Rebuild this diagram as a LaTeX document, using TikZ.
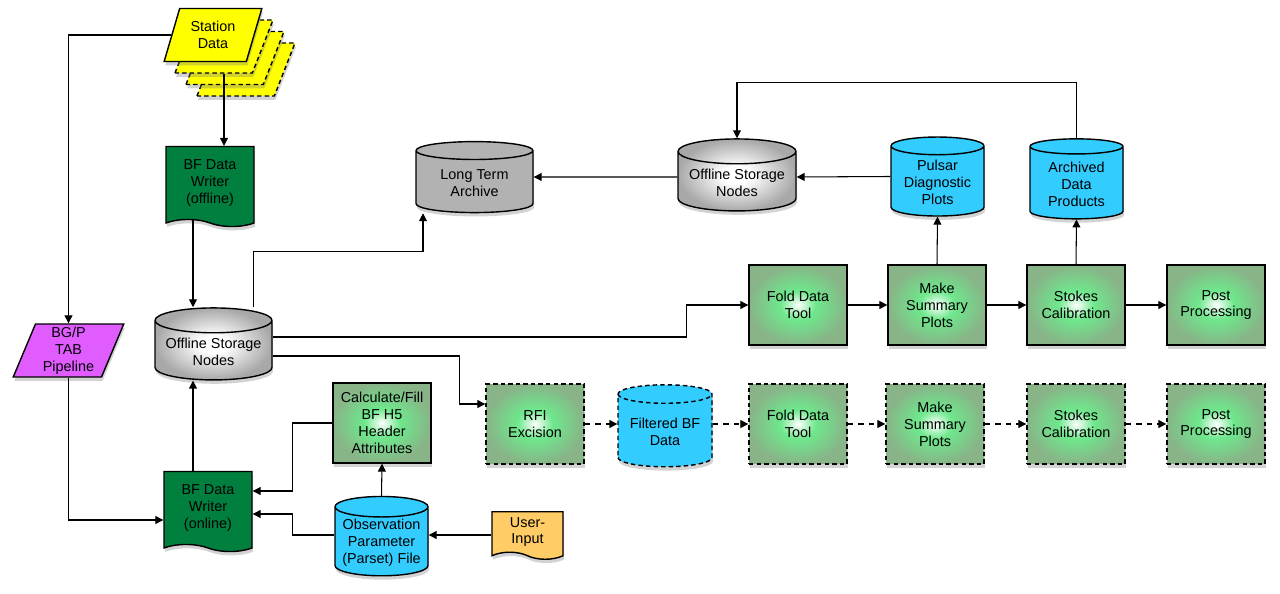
\documentclass[tikz,border=0pt]{standalone}
\usepackage{fontspec}
\setmainfont{Liberation Sans}
\usetikzlibrary{shapes.geometric,shapes.symbols,shadows,arrows.meta}

\definecolor{writergreen}{RGB}{0,127,62}
\definecolor{stationyellow}{RGB}{255,255,0}
\definecolor{bgpmagenta}{RGB}{224,92,255}
\definecolor{userorange}{RGB}{255,204,102}
\definecolor{plotblue}{RGB}{51,204,255}
\definecolor{archivegray}{RGB}{178,178,178}
\definecolor{glowmid}{RGB}{110,232,140}
\definecolor{glowedge}{RGB}{136,180,136}
\definecolor{grayedge}{RGB}{168,168,168}

\pgfdeclareradialshading{glowgreen}{\pgfpoint{0bp}{0bp}}{color(0bp)=(white); color(9bp)=(glowmid); color(25bp)=(glowedge); color(50bp)=(glowedge)}
\pgfdeclareradialshading{glowgray}{\pgfpoint{0bp}{0bp}}{color(0bp)=(white); color(6bp)=(white); color(25bp)=(grayedge); color(50bp)=(grayedge)}

\tikzset{
  every node/.style={font=\fontsize{8.2}{9.6}\selectfont, align=center, inner sep=1pt},
  castshadow/.style={drop shadow={shadow xshift=0.6pt, shadow yshift=-2.2pt, opacity=0.35}},
  procbox/.style={rectangle, draw, line width=0.8pt, minimum width=1.96cm, minimum height=1.6cm, shade, shading=glowgreen, castshadow},
  dashbox/.style={procbox, dash pattern=on 2.5pt off 1.8pt},
  store/.style={cylinder, shape border rotate=90, aspect=0.25, draw, line width=0.8pt, castshadow},
  writer/.style={tape, tape bend top=none, tape bend bottom=out and in, tape bend height=4pt, draw, line width=0.8pt, minimum width=1.76cm, minimum height=1.6cm, castshadow},
  slanted/.style={trapezium, trapezium left angle=70, trapezium right angle=110, trapezium stretches=true, draw, line width=0.8pt, castshadow},
  link/.style={-{Triangle[length=4.5pt,width=4.5pt]}, line width=0.6pt},
}

\begin{document}
\begin{tikzpicture}[x=0.02cm,y=-0.02cm]
\useasboundingbox (0,0) rectangle (1280,594);

\foreach \i/\dx/\dy in {4/33/34.5,3/22/23,2/11/11.5}
  \node[slanted, dash pattern=on 2.5pt off 1.8pt, fill=stationyellow, minimum width=1.96cm, minimum height=1.06cm] (station\i) at (213+\dx,35+\dy) {};
\node[slanted, fill=stationyellow, minimum width=1.96cm, minimum height=1.06cm] (station) at (213,35) {Station\\Data};

\node[writer, fill=writergreen] (bfoff) at (210,183) {BF Data\\Writer\\(offline)};
\node[store, shade, shading=glowgray, minimum width=2.34cm, minimum height=1.44cm] (store) at (213.5,352) {Offline Storage\\Nodes};
\node[slanted, fill=bgpmagenta, minimum width=2.22cm, minimum height=1.06cm] (bgp) at (68.5,350.5) {BG/P\\TAB\\Pipeline};
\node[writer, fill=writergreen] (bfon) at (208,508) {BF Data\\Writer\\(online)};
\node[procbox] (calc) at (382,423) {Calculate/Fill\\BF H5\\Header\\Attributes};
\node[store, fill=plotblue, minimum width=1.86cm, minimum height=1.56cm] (obs) at (381.5,543) {Observation\\Parameter\\(Parset) File};
\node[writer, fill=userorange, minimum width=1.42cm, minimum height=0.95cm] (user) at (527.5,532) {User-\\Input};

\node[store, fill=archivegray, minimum width=2.34cm, minimum height=1.42cm] (lta) at (474.5,183) {Long Term\\Archive};
\node[store, shade, shading=glowgray, minimum width=2.36cm, minimum height=1.44cm] (store2) at (737,183) {Offline Storage\\Nodes};
\node[store, fill=plotblue, minimum width=1.86cm, minimum height=1.58cm] (pulsar) at (937.5,182.5) {Pulsar\\Diagnostic\\Plots};
\node[store, fill=plotblue, minimum width=1.86cm, minimum height=1.6cm] (archived) at (1076.5,184) {Archived\\Data\\Products};

\node[procbox] (fold) at (798,305) {Fold Data\\Tool};
\node[procbox] (make) at (937,305) {Make\\Summary\\Plots};
\node[procbox] (stokes) at (1076,305) {Stokes\\Calibration};
\node[procbox] (post) at (1216,305) {Post\\Processing};

\node[dashbox] (rfi) at (535,424) {RFI\\Excision};
\node[store, dash pattern=on 2.5pt off 1.8pt, fill=plotblue, minimum width=1.88cm, minimum height=1.64cm] (filt) at (665,432) {Filtered BF\\Data};
\node[dashbox] (fold2) at (798,424) {Fold Data\\Tool};
\node[dashbox] (make2) at (935,424) {Make\\Summary\\Plots};
\node[dashbox] (stokes2) at (1076,424) {Stokes\\Calibration};
\node[dashbox] (post2) at (1216,424) {Post\\Processing};

\coordinate (colx) at (193,0);

\draw[link] (station.west) -| (bgp.north);
\draw[link] (station2.south) -- (station2.south |- bfoff.north);
\draw[link] (colx |- bfoff.south) -- (colx |- store.north);
\draw[link] ([xshift=0.8cm]store.north) -- ++(0,-56) -| ([xshift=-1.03cm]lta.south);
\draw[link] ([yshift=0.3cm]store.east) -| ([xshift=-1.24cm]fold.west) -- (fold.west);
\draw[link] ([yshift=-0.08cm]store.east) -| ([xshift=-0.52cm,yshift=0.4cm]rfi.west) -- ([yshift=0.4cm]rfi.west);
\draw[link] (bgp.south) |- ([yshift=-0.24cm]bfon.west);
\draw[link] (colx |- bfon.north) -- (colx |- store.south);
\draw[link] (calc.west) -- ++(-40,0) |- ([yshift=0.34cm]bfon.east);
\draw[link] ([yshift=0.16cm]obs.west) -- ++(-42,0) |- ([yshift=-0.12cm]bfon.east);
\draw[link] (obs.north) -- (calc.south);
\draw[link] ([yshift=0.16cm]obs.east -| user.west) -- ([yshift=0.16cm]obs.east);

\draw[link] ([yshift=0.12cm]store2.west) -- ([yshift=0.12cm]lta.east);
\draw[link] ([yshift=0.12cm]pulsar.west) -- ([yshift=0.12cm]store2.east);
\draw[link] (archived.north) -- ++(0,-56) -| (store2.north);
\draw[link] (make.north) -- (pulsar.south);
\draw[link] (stokes.north) -- (archived.south);

\draw[link] (fold) -- (make);
\draw[link] (make) -- (stokes);
\draw[link] (stokes) -- (post);

\draw[link, dashed] (rfi.east) -- (rfi.east -| filt.west);
\draw[link, dashed] (filt.east |- fold2.west) -- (fold2.west);
\draw[link, dashed] (fold2) -- (make2);
\draw[link, dashed] (make2) -- (stokes2);
\draw[link, dashed] (stokes2) -- (post2);
\end{tikzpicture}
\end{document}
